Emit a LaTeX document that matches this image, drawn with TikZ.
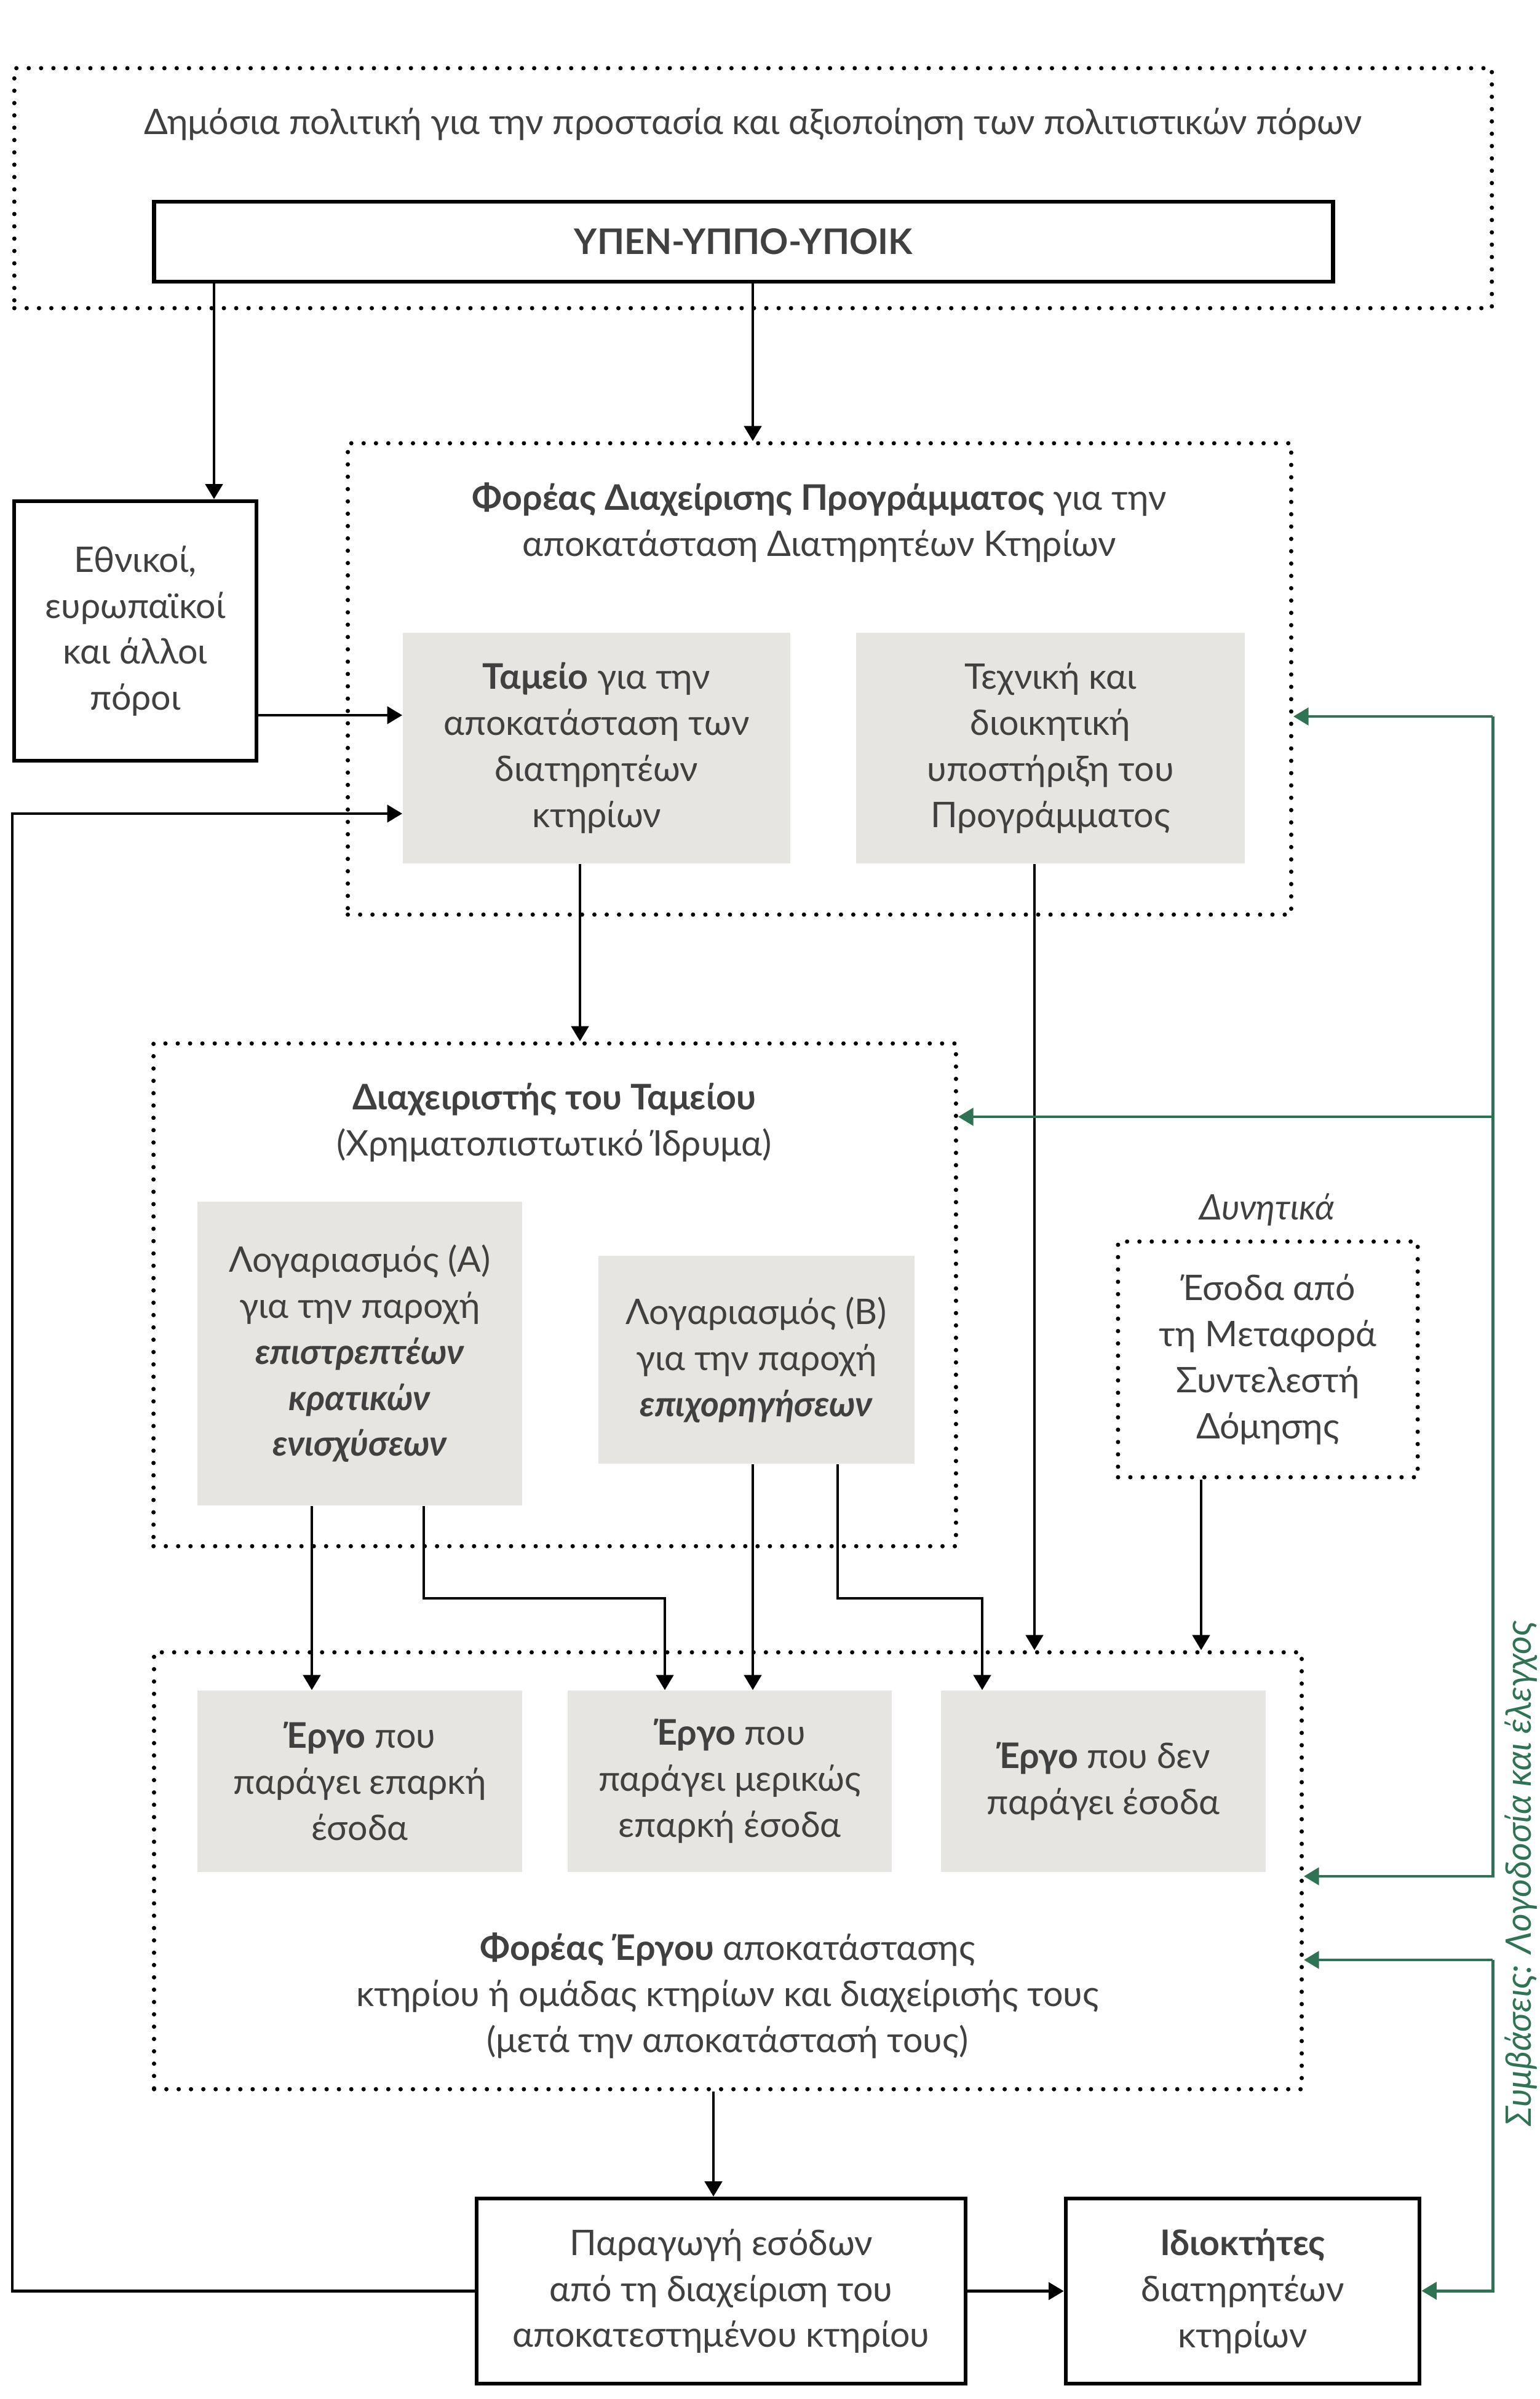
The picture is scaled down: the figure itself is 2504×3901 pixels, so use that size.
\documentclass[tikz,border=0pt]{standalone}
\usepackage{fontspec}
\setmainfont{Lato}
\usetikzlibrary{arrows.meta}
\definecolor{txtgray}{HTML}{404040}
\definecolor{boxgray}{HTML}{E6E5E1}
\definecolor{contractgreen}{HTML}{2E7454}
\tikzset{
  lbl/.style={text=txtgray, align=center, font=\fontsize{16.3}{21.3}\selectfont},
  solidbox/.style={lbl, draw=black, line width=1.8pt, inner sep=0pt},
  graybox/.style={lbl, fill=boxgray, inner sep=0pt},
  dotframe/.style={draw=black, line width=2pt, line cap=round, dash pattern=on 0pt off 5.7pt, inner sep=0pt},
  arr/.style={line width=1.3pt, -{Triangle[length=7pt,width=8pt]}},
  garr/.style={draw=contractgreen, line width=1.4pt, -{Triangle[length=7pt,width=8pt]}}
}
\begin{document}
\begin{tikzpicture}[x=0.01cm,y=-0.01cm]
\useasboundingbox (0,0) rectangle (2504,3901);

\node[dotframe, minimum width=24.01cm, minimum height=3.90cm] (policy) at (1224.5,306) {};
\node[lbl] (policytxt) at (1224,202) {Δημόσια πολιτική για την προστασία και αξιοποίηση των πολιτιστικών πόρων};
\node[solidbox, minimum width=19.16cm, minimum height=1.30cm] (upen) at (1209,393) {\textbf{ΥΠΕΝ-ΥΠΠΟ-ΥΠΟΙΚ}};

\node[solidbox, minimum width=3.94cm, minimum height=4.22cm] (ethn) at (220,1026) {Εθνικοί,\\ευρωπαϊκοί\\και άλλοι\\πόροι};

\node[dotframe, minimum width=15.33cm, minimum height=7.66cm] (foreasP) at (1332.5,1104) {};
\node[lbl] (foreasPtxt) at (1332,850) {\textbf{Φορέας Διαχείρισης Προγράμματος} για την\\αποκατάσταση Διατηρητέων Κτηρίων};
\node[graybox, minimum width=6.30cm, minimum height=3.75cm] (tameio) at (970,1216.5) {\textbf{Ταμείο} για την\\αποκατάσταση των\\διατηρητέων\\κτηρίων};
\node[graybox, minimum width=6.32cm, minimum height=3.75cm] (tech) at (1708,1216.5) {Τεχνική και\\διοικητική\\υποστήριξη του\\Προγράμματος};

\node[dotframe, minimum width=13.04cm, minimum height=8.17cm] (diax) at (902,2105.5) {};
\node[lbl] (diaxtxt) at (901,1825) {\textbf{Διαχειριστής του Ταμείου}\\(Χρηματοπιστωτικό Ίδρυμα)};
\node[graybox, minimum width=5.28cm, minimum height=4.94cm] (accA) at (585,2201) {Λογαριασμός (Α)\\για την παροχή\\\textbf{\textit{επιστρεπτέων}}\\\textbf{\textit{κρατικών}}\\\textbf{\textit{ενισχύσεων}}};
\node[graybox, minimum width=5.14cm, minimum height=3.38cm] (accB) at (1230,2211) {Λογαριασμός (Β)\\για την παροχή\\\textbf{\textit{επιχορηγήσεων}}};

\node[lbl] (dyntitle) at (2060,1967) {\textit{Δυνητικά}};
\node[dotframe, lbl, minimum width=4.87cm, minimum height=3.83cm] (dyn) at (2061.5,2210.5) {Έσοδα από\\τη Μεταφορά\\Συντελεστή\\Δόμησης};

\node[dotframe, minimum width=18.65cm, minimum height=7.10cm] (foreasE) at (1183.5,3042) {};
\node[graybox, minimum width=5.28cm, minimum height=2.95cm] (ergo1) at (585,2896.5) {\textbf{Έργο} που\\παράγει επαρκή\\έσοδα};
\node[graybox, minimum width=5.27cm, minimum height=2.95cm] (ergo2) at (1186.5,2896.5) {\textbf{Έργο} που\\παράγει μερικώς\\επαρκή έσοδα};
\node[graybox, minimum width=5.28cm, minimum height=2.95cm] (ergo3) at (1794,2896.5) {\textbf{Έργο} που δεν\\παράγει έσοδα};
\node[lbl] (foreasEtxt) at (1183,3245) {\textbf{Φορέας Έργου} αποκατάστασης\\κτηρίου ή ομάδας κτηρίων και διαχείρισής τους\\(μετά την αποκατάστασή τους)};

\node[solidbox, minimum width=7.95cm, minimum height=3.01cm] (parag) at (1172.5,3725.5) {Παραγωγή εσόδων\\από τη διαχείριση του\\αποκατεστημένου κτηρίου};
\node[solidbox, minimum width=5.75cm, minimum height=3.01cm] (idio) at (2020.5,3725.5) {\textbf{Ιδιοκτήτες}\\διατηρητέων\\κτηρίων};

\node[lbl, text=contractgreen, rotate=90] (contracts) at (2473,3047) {\textit{Συμβάσεις: Λογοδοσία και έλεγχος}};

\coordinate (xE) at (348,0);
\coordinate (xP) at (1224,0);
\coordinate (yE) at (0,1163);
\coordinate (yL) at (0,1323);
\coordinate (loopL) at (20,0);
\coordinate (xT) at (943,0);
\coordinate (xS) at (1682,0);
\coordinate (xA1) at (507,0);
\coordinate (kA) at (689,2599);
\coordinate (xB1) at (1081,0);
\coordinate (xB2) at (1224,0);
\coordinate (kB) at (1362,2599);
\coordinate (xC1) at (1597,0);
\coordinate (xD) at (1953,0);
\coordinate (xF) at (1160,0);
\coordinate (gTop) at (2427,1165);
\coordinate (gMid) at (2427,3051);
\coordinate (gLow) at (2427,3187);
\coordinate (gBot) at (2427,3725);
\coordinate (yDiax) at (0,1816);

\draw[arr] (upen.south -| xE) -- (ethn.north -| xE);
\draw[arr] (upen.south -| xP) -- (foreasP.north -| xP);
\draw[arr] (ethn.east |- yE) -- (tameio.west |- yE);
\draw[arr] (parag.west) -| (loopL |- yL) -- (tameio.west |- yL);
\draw[arr] (tameio.south -| xT) -- (diax.north -| xT);
\draw[arr] (tech.south -| xS) -- (foreasE.north -| xS);
\draw[arr] (accA.south -| xA1) -- (ergo1.north -| xA1);
\draw[arr] (accA.south -| kA) -- (kA) -| (ergo2.north -| xB1);
\draw[arr] (accB.south -| xB2) -- (ergo2.north -| xB2);
\draw[arr] (accB.south -| kB) -- (kB) -| (ergo3.north -| xC1);
\draw[arr] (dyn.south -| xD) -- (foreasE.north -| xD);
\draw[arr] (foreasE.south -| xF) -- (parag.north -| xF);
\draw[arr] (parag.east) -- (idio.west);

\draw[garr] (gTop) -- (foreasP.east |- gTop);
\draw[garr] (gTop) -- (gMid) -- (foreasE.east |- gMid);
\draw[garr] (gTop |- yDiax) -- (diax.east |- yDiax);
\draw[garr] (gLow) -- (foreasE.east |- gLow);
\draw[garr] (gLow) -- (gBot) -- (idio.east |- gBot);
\end{tikzpicture}
\end{document}
